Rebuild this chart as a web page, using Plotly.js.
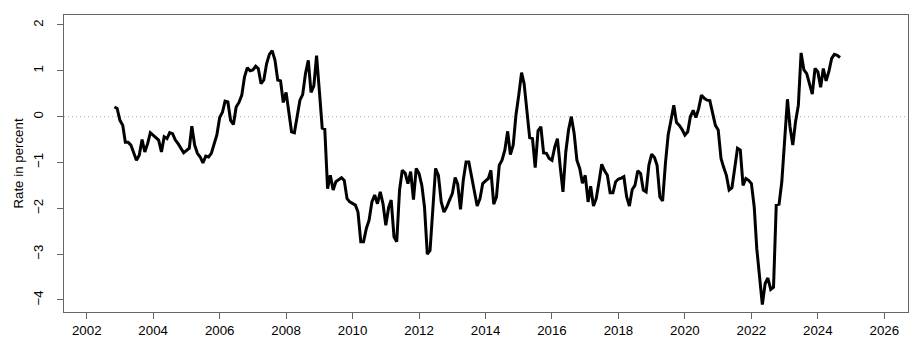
<!DOCTYPE html>
<html>
<head>
<meta charset="utf-8">
<script src="https://cdn.plot.ly/plotly-3.0.1.min.js"></script>
<style>
html, body { margin: 0; padding: 0; background: #ffffff; }
#chart { width: 922px; height: 341px; }
</style>
</head>
<body>
<div id="chart"></div>
<script>
// Monthly values (rate in percent); null = month not read
const r2002 = [0.21, 0.18]; // Nov, Dec
const r2003 = [-0.08, -0.19, -0.56, -0.56, -0.62, null, -0.95, -0.84, -0.50, -0.77, -0.59, -0.35];
const r2004 = [-0.40, null, -0.51, -0.77, -0.44, -0.48, -0.35, -0.37, -0.51, -0.59, null, -0.79];
const r2005 = [null, -0.69, -0.21, -0.62, -0.80, -0.88, -1.01, -0.86, -0.88, -0.80, -0.62, -0.40];
const r2006 = [-0.02, 0.10, 0.34, 0.32, -0.08, -0.17, 0.21, 0.31, 0.47, 0.87, 1.07, 1.00];
const r2007 = [1.02, 1.10, 1.05, 0.72, 0.80, 1.16, 1.36, 1.44, 1.23, 0.80, 0.78, 0.31];
const r2008 = [0.53, 0.10, -0.33, -0.35, -0.04, 0.36, 0.48, 0.94, 1.23, 0.53, 0.67, 1.33];
const r2009 = [0.55, -0.25, -0.27, -1.57, -1.28, -1.60, -1.42, null, -1.33, -1.39, -1.79, -1.86];
const r2010 = [null, -1.93, -2.08, -2.73, -2.73, -2.44, -2.26, -1.86, -1.71, -1.90, -1.64, -1.90];
const r2011 = [-2.37, -1.98, -1.82, -2.62, -2.73, -1.60, -1.17, -1.23, -1.46, -1.20, -1.81, -1.13];
const r2012 = [-1.24, -1.50, -1.97, -3.00, -2.92, -2.00, -1.13, -1.28, -1.86, -2.08, -1.97, -1.82];
const r2013 = [-1.68, -1.33, -1.47, -2.02, -1.39, -0.99, -0.99, -1.31, -1.64, -1.95, -1.79, -1.46];
const r2014 = [-1.40, -1.35, -1.17, -1.91, -1.75, -1.06, -0.95, -0.73, -0.32, -0.83, -0.62, 0.03];
const r2015 = [0.47, 0.96, 0.72, 0.14, -0.46, -0.48, -1.11, -0.31, -0.22, -0.79, -0.80, -0.91];
const r2016 = [-0.95, -0.66, -0.48, -1.10, -1.64, -0.77, -0.29, 0.00, -0.37, -0.95, -1.13, -1.45];
const r2017 = [-1.28, -1.86, -1.52, -1.95, -1.79, -1.42, -1.04, -1.18, -1.28, -1.66, -1.66, -1.42];
const r2018 = [-1.36, -1.34, -1.31, -1.75, -1.95, -1.59, -1.50, -1.18, -1.24, -1.60, -1.64, -1.06];
const r2019 = [-0.82, -0.89, -1.06, -1.75, -1.84, -1.02, -0.40, -0.08, 0.25, -0.13, -0.19, -0.28];
const r2020 = [-0.40, -0.33, 0.00, 0.14, -0.02, 0.18, 0.47, 0.40, 0.36, 0.35, 0.07, -0.19];
const r2021 = [-0.29, -0.91, -1.10, -1.28, -1.60, -1.55, -1.13, -0.69, -0.73, -1.50, -1.35, -1.39];
const r2022 = [-1.46, -1.97, -2.88, -3.46, -4.10, -3.64, -3.52, -3.77, -3.72, -1.93, -1.91, -1.42];
const r2023 = [-0.45, 0.38, -0.22, -0.62, -0.11, 0.25, 1.39, 1.02, 0.94, 0.72, 0.49, 1.05];
const r2024 = [0.98, 0.64, 1.05, 0.78, 0.98, 1.27, 1.36, 1.34, 1.29]; // Jan - Sep

const yearList = [2002, 2003, 2004, 2005, 2006, 2007, 2008, 2009, 2010, 2011, 2012, 2013,
                  2014, 2015, 2016, 2017, 2018, 2019, 2020, 2021, 2022, 2023, 2024];
const yearData = [r2002, r2003, r2004, r2005, r2006, r2007, r2008, r2009, r2010, r2011, r2012, r2013,
                  r2014, r2015, r2016, r2017, r2018, r2019, r2020, r2021, r2022, r2023, r2024];
const firstMonth = [11, 1, 1, 1, 1, 1, 1, 1, 1, 1, 1, 1, 1, 1, 1, 1, 1, 1, 1, 1, 1, 1, 1];

const yTicks = [-4, -3, -2, -1, 0, 1, 2];

const dates = [];
const values = [];
yearList.forEach((yr, i) => {
  yearData[i].forEach((v, j) => {
    const mo = firstMonth[i] + j;
    dates.push(yr + '-' + String(mo).padStart(2, '0') + '-01');
    values.push(v);
  });
});

const font = { family: '"Liberation Sans", Arial, Helvetica, sans-serif', size: 13.3, color: '#000000' };

const trace = {
  x: dates,
  y: values,
  type: 'scatter',
  mode: 'lines',
  connectgaps: true,
  line: { color: '#000000', width: 3 },
  hoverinfo: 'x+y'
};

const layout = {
  width: 922,
  height: 341,
  margin: { l: 64, r: 14, t: 15, b: 29, pad: 0 },
  paper_bgcolor: '#ffffff',
  plot_bgcolor: '#ffffff',
  showlegend: false,
  font: font,
  xaxis: {
    type: 'date',
    range: ['2001-04-26', '2026-09-18'],
    tick0: '2002-01-01',
    dtick: 'M24',
    tickformat: '%Y',
    showgrid: false,
    zeroline: false,
    showline: true,
    mirror: true,
    linecolor: '#666666',
    linewidth: 1,
    ticks: 'outside',
    ticklen: 6,
    tickcolor: '#666666',
    tickwidth: 1,
    tickfont: font
  },
  yaxis: {
    range: [-4.262, 2.218],
    tickvals: yTicks,
    ticktext: yTicks.map(v => v < 0 ? '\u2212' + Math.abs(v) : String(v)),
    tickangle: -90,
    showgrid: false,
    zeroline: false,
    showline: true,
    mirror: true,
    linecolor: '#666666',
    linewidth: 1,
    ticks: 'outside',
    ticklen: 6,
    tickcolor: '#666666',
    tickwidth: 1,
    tickfont: font,
    ticklabelstandoff: 9,
    title: { text: 'Rate in percent', font: font, standoff: 4 }
  },
  shapes: [{
    type: 'line',
    xref: 'paper', yref: 'y',
    x0: 0, x1: 1, y0: 0, y1: 0,
    line: { color: '#b0b0b0', width: 1, dash: '1px,3px' },
    layer: 'below'
  }]
};

Plotly.newPlot('chart', [trace], layout, { displayModeBar: false, staticPlot: true });
</script>
</body>
</html>
